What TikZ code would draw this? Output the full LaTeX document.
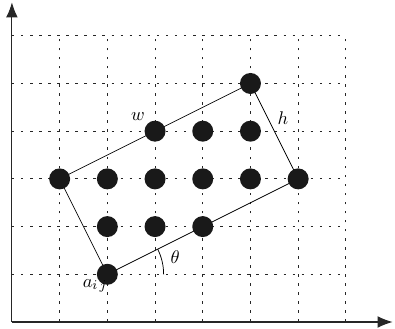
\documentclass[tikz,border=0pt]{standalone}
\usetikzlibrary{arrows.meta}
\begin{document}
\begin{tikzpicture}[
  gridline/.style={black!85, line width=0.6pt, dash pattern=on 1.5pt off 3.9pt},
  axisline/.style={black!85, line width=0.6pt, -{Latex[length=9pt,width=7pt]}},
  pt/.style={circle, fill=black!90, inner sep=0pt, minimum size=0.44cm},
  edge/.style={black, line width=0.45pt},
  lbl/.style={font=\fontsize{11}{13}\selectfont}
]
\useasboundingbox (-0.25,-0.13) rectangle (8.03,6.75);
% grid
\foreach \x in {1,...,7} \draw[gridline] (\x,0) -- (\x,6);
\foreach \y in {1,...,6} \draw[gridline] (0,\y) -- (7,\y);
% axes
\coordinate (o) at (0,0);
\coordinate (xe) at (7.98,0);
\coordinate (ye) at (0,6.7);
\draw[axisline] (o) -- (xe);
\draw[axisline] (o) -- (ye);
% rectangle edges
\coordinate (A) at (2,1);
\coordinate (B) at (6,3);
\coordinate (C) at (5,5);
\coordinate (D) at (1,3);
\draw[edge] (A) -- (B) -- (C) -- (D) -- cycle;
% angle
\draw[edge] (3.18,1) arc (0:26.57:1.18);
% dots
\foreach \x/\y/\n in {5/5/p55, 3/4/p34, 4/4/p44, 5/4/p54,
  1/3/p13, 2/3/p23, 3/3/p33, 4/3/p43, 5/3/p53, 6/3/p63,
  2/2/p22, 3/2/p32, 4/2/p42, 2/1/p21}
  \node[pt] (\n) at (\x,\y) {};
% labels
\node[lbl] (w) at (2.64,4.30) {$w$};
\node[lbl] (h) at (5.68,4.27) {$h$};
\node[lbl] (t) at (3.42,1.36) {$\theta$};
\node[lbl] (a) at (1.74,0.76) {$a_{i\,j}$};
\end{tikzpicture}
\end{document}
